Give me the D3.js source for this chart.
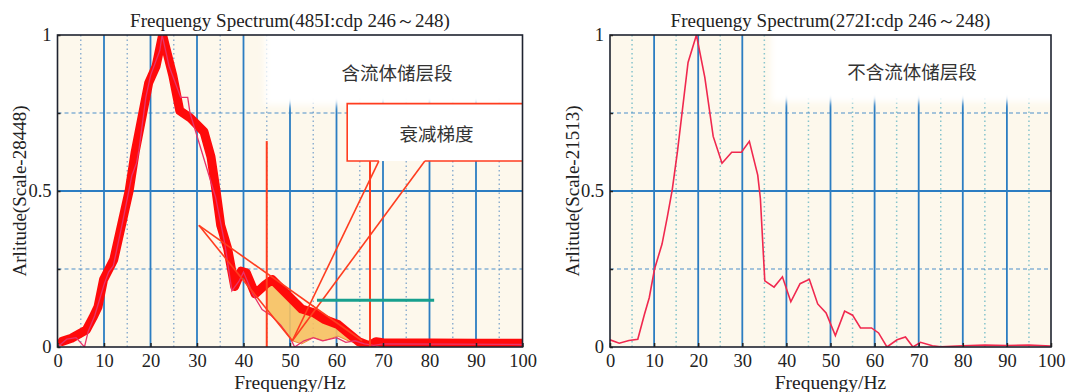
<!DOCTYPE html>
<html>
<head>
<meta charset="utf-8">
<script src="https://cdn.jsdelivr.net/npm/d3@7"></script>
<style>
  body { margin: 0; background: #fff; }
  svg { display: block; }
  text { font-family: "Liberation Serif", "Times New Roman", serif; fill: #222; }
  .cjk { font-family: "Noto Sans CJK SC", sans-serif; fill: #333; }
</style>
</head>
<body>
<script>
// 坐标刻度
const freqTicks = [0, 10, 20, 30, 40, 50, 60, 70, 80, 90, 100];
const minorFreq = [5, 15, 25, 35, 45, 55, 65, 75, 85, 95];
const ampTicks = [0, 0.5, 1];
const ampDashed = [0.25, 0.75];

// 左图：含流体储层段（粗线）
const leftThickFreq = [1, 3, 6.2, 7.6, 8.7, 9.9, 12.1, 15.4, 16.7, 19.6, 21.2, 22.6, 24.8, 26.3, 28.5, 31.5, 33, 34.1, 35.1, 36.6, 38.1, 39.5, 40.6, 42.5, 44.7, 46.2, 48.4, 50.6, 52.5, 55.1, 57.3, 60.3, 62.5, 64.8, 67, 68.5, 70, 80, 90, 100];
const leftThickAmp = [0.018, 0.028, 0.055, 0.094, 0.128, 0.216, 0.28, 0.5, 0.625, 0.846, 0.9, 1.0, 0.87, 0.757, 0.735, 0.69, 0.61, 0.5, 0.39, 0.315, 0.194, 0.243, 0.238, 0.17, 0.2, 0.216, 0.183, 0.15, 0.122, 0.11, 0.089, 0.072, 0.045, 0.017, 0.004, 0.017, 0.014, 0.013, 0.012, 0.012];

// 左图细线
const leftThinFreq = [0, 2, 4, 5.8, 6.6, 8, 9, 10, 11, 12, 14, 16, 17, 17.5, 19, 20, 22, 22.5, 24, 26.5, 28, 28.5, 34, 36, 37.5, 39, 40, 42, 44, 46, 48, 50, 51, 53, 55, 57, 60, 62, 64, 66, 68, 70, 100];
const leftThinAmp = [0.0, 0.025, 0.03, 0.0, 0.05, 0.1, 0.15, 0.2, 0.24, 0.26, 0.4, 0.55, 0.59, 0.63, 0.8, 0.87, 0.95, 1.0, 0.9, 0.8, 0.8, 0.75, 0.48, 0.33, 0.18, 0.21, 0.24, 0.17, 0.12, 0.1, 0.07, 0.03, 0.0, 0.02, 0.03, 0.02, 0.03, 0.015, 0.02, 0.01, 0.005, 0.01, 0.008];

// 衰减区域（橙色填充）
const fillFreq = [45, 46.2, 48.4, 50.5, 52.5, 55.1, 57.3, 60.3, 62.5, 64.8, 66];
const fillUpper = [0.2, 0.216, 0.183, 0.15, 0.122, 0.11, 0.089, 0.072, 0.045, 0.017, 0.01];
const fillLower = [0.121, 0.099, 0.059, 0.02, 0.01, 0.03, 0.02, 0.035, 0.02, 0.01, 0.01];

// 右图：不含流体储层段
const rightFreq = [0, 2.1, 4.3, 6.3, 7.8, 8.9, 10.1, 11.8, 13, 14.1, 15.3, 17.7, 19.6, 21.5, 23.4, 25.4, 27.6, 29.8, 31.6, 33.5, 34.1, 35.1, 37.2, 39.1, 41, 43.1, 45.2, 47.1, 49, 51.1, 53.2, 55, 56.8, 59.3, 60.9, 62.8, 65.1, 67, 68.7, 70.4, 73.1, 75, 80, 85, 90, 95, 100];
const rightAmp = [0.023, 0.012, 0.021, 0.025, 0.104, 0.158, 0.25, 0.33, 0.417, 0.503, 0.627, 0.912, 1.0, 0.864, 0.675, 0.589, 0.624, 0.624, 0.659, 0.551, 0.476, 0.212, 0.192, 0.225, 0.145, 0.203, 0.217, 0.138, 0.109, 0.037, 0.115, 0.102, 0.061, 0.061, 0.045, 0.0, 0.023, 0.032, 0.0, 0.015, 0.004, 0.001, 0.004, 0.006, 0.005, 0.006, 0.003];

const width = 1068, height = 392;
const plotTop = 35, plotBottom = 347;

const svg = d3.select('body').append('svg')
  .attr('width', width)
  .attr('height', height);

const drawPanel = (opt) => {
  const x = d3.scaleLinear().domain([0, 100]).range([opt.left, opt.right]);
  const y = d3.scaleLinear().domain([0, 1]).range([plotBottom, plotTop]);
  const g = svg.append('g');
  const clipId = 'clip' + opt.id;

  g.append('clipPath').attr('id', clipId)
    .append('rect')
    .attr('x', opt.left).attr('y', plotTop)
    .attr('width', opt.right - opt.left).attr('height', plotBottom - plotTop);

  // 背景
  g.append('rect')
    .attr('x', opt.left).attr('y', plotTop)
    .attr('width', opt.right - opt.left).attr('height', plotBottom - plotTop)
    .attr('fill', '#fdf8ec');

  // 网格
  const grid = g.append('g');
  grid.selectAll('.minor').data(minorFreq).enter().append('line')
    .attr('x1', d => x(d)).attr('x2', d => x(d))
    .attr('y1', plotTop).attr('y2', plotBottom)
    .attr('stroke', opt.dotColor).attr('stroke-width', 1.5)
    .attr('stroke-dasharray', '1.5,3');
  grid.selectAll('.hdash').data(ampDashed).enter().append('line')
    .attr('x1', opt.left).attr('x2', opt.right)
    .attr('y1', d => y(d)).attr('y2', d => y(d))
    .attr('stroke', '#4d8fc9').attr('stroke-width', 1)
    .attr('stroke-dasharray', '4,3');
  grid.selectAll('.major').data(freqTicks.slice(1, -1)).enter().append('line')
    .attr('x1', d => x(d)).attr('x2', d => x(d))
    .attr('y1', plotTop).attr('y2', plotBottom)
    .attr('stroke', '#2c7dc2').attr('stroke-width', 1.8);
  grid.append('line')
    .attr('x1', opt.left).attr('x2', opt.right)
    .attr('y1', y(0.5)).attr('y2', y(0.5))
    .attr('stroke', '#2c7dc2').attr('stroke-width', 1.8);

  // 白色标注框
  const defs = g.append('defs');
  defs.append('filter').attr('id', 'soft' + opt.id)
    .attr('x', '-10%').attr('y', '-10%').attr('width', '120%').attr('height', '120%')
    .append('feGaussianBlur').attr('stdDeviation', 3);
  g.append('g').attr('clip-path', `url(#${clipId})`)
    .append('rect')
    .attr('x', x(opt.boxFrom)).attr('y', plotTop - 10)
    .attr('width', opt.right - x(opt.boxFrom) + 10)
    .attr('height', y(opt.boxTo) - plotTop + 10)
    .attr('fill', '#fff')
    .attr('filter', `url(#soft${opt.id})`);

  g.append('text').attr('class', 'cjk')
    .attr('x', x(opt.labelAt[0])).attr('y', y(opt.labelAt[1]))
    .attr('text-anchor', 'middle').attr('dominant-baseline', 'central')
    .attr('font-size', 18.5)
    .text(opt.label);

  const plot = g.append('g').attr('clip-path', `url(#${clipId})`);
  opt.extra && opt.extra(plot, x, y);

  const line = d3.line().x(d => x(d[0])).y(d => y(d[1]));

  if (opt.thick) {
    plot.append('path')
      .datum(d3.zip(opt.thick[0], opt.thick[1]))
      .attr('d', line)
      .attr('fill', 'none')
      .attr('stroke', '#ff0a0a')
      .attr('stroke-width', 9)
      .attr('stroke-linejoin', 'round')
      .attr('stroke-linecap', 'round');
  }
  plot.append('path')
    .datum(d3.zip(opt.thin[0], opt.thin[1]))
    .attr('d', line)
    .attr('fill', 'none')
    .attr('stroke', opt.thinColor)
    .attr('stroke-width', opt.thinWidth);

  opt.after && opt.after(g, x, y);

  // 边框
  g.append('rect')
    .attr('x', opt.left).attr('y', plotTop)
    .attr('width', opt.right - opt.left).attr('height', plotBottom - plotTop)
    .attr('fill', 'none').attr('stroke', '#1e2330').attr('stroke-width', 1.6);

  // 坐标轴
  const xAxis = g.append('g')
    .attr('transform', `translate(0, ${plotBottom})`)
    .call(d3.axisBottom(x).tickValues(freqTicks).tickSizeInner(-4).tickSizeOuter(0).tickPadding(7));
  xAxis.select('.domain').remove();
  xAxis.selectAll('.tick line').attr('stroke', '#222').attr('stroke-width', 1.5);
  xAxis.selectAll('.tick text').attr('font-size', 18.5).attr('fill', '#222')
    .attr('font-family', '"Liberation Serif", serif');

  const yAxis = g.append('g')
    .attr('transform', `translate(${opt.left}, 0)`)
    .call(d3.axisLeft(y).tickValues([0, 0.25, 0.5, 0.75, 1]).tickSizeInner(-3).tickSizeOuter(0).tickPadding(6)
      .tickFormat(d => ampTicks.includes(d) ? d3.format('~g')(d) : ''));
  yAxis.select('.domain').remove();
  yAxis.selectAll('.tick line').attr('stroke', '#222').attr('stroke-width', 1.5);
  yAxis.selectAll('.tick text').attr('font-size', 18.5).attr('fill', '#222')
    .attr('font-family', '"Liberation Serif", serif');

  // 标题与轴标签
  g.append('text')
    .attr('x', (opt.left + opt.right) / 2).attr('y', 20)
    .attr('text-anchor', 'middle').attr('dominant-baseline', 'central')
    .attr('font-size', 19)
    .text(opt.title);
  g.append('text')
    .attr('x', (opt.left + opt.right) / 2).attr('y', 382)
    .attr('text-anchor', 'middle').attr('dominant-baseline', 'central')
    .attr('font-size', 19.5)
    .text('Frequengy/Hz');
  g.append('text')
    .attr('transform', `translate(${opt.left - 38}, ${(plotTop + plotBottom) / 2}) rotate(-90)`)
    .attr('text-anchor', 'middle').attr('dominant-baseline', 'central')
    .attr('font-size', 19)
    .text(opt.yLabel);
};

// 左图
drawPanel({
  id: 'L', left: 57.5, right: 522.5,
  title: 'Frequengy Spectrum(485I:cdp 246～248)',
  yLabel: 'Arlitude(Scale-28448)',
  dotColor: '#8fb0d0',
  boxFrom: 44.5, boxTo: 0.775,
  label: '含流体储层段', labelAt: [73, 0.88],
  thick: [leftThickFreq, leftThickAmp],
  thin: [leftThinFreq, leftThinAmp],
  thinColor: '#e8336a', thinWidth: 1.3,
  extra: (p, x, y) => {
    // 橙色衰减区域
    const area = d3.area()
      .x(d => x(d[0])).y0(d => y(d[2])).y1(d => y(d[1]));
    p.append('path')
      .datum(d3.zip(fillFreq, fillUpper, fillLower))
      .attr('d', area)
      .attr('fill', '#f6c060').attr('opacity', 0.9);
    p.append('path')
      .datum(d3.zip(fillFreq, fillLower))
      .attr('d', d3.line().x(d => x(d[0])).y(d => y(d[1])))
      .attr('fill', 'none').attr('stroke', '#f08a40').attr('stroke-width', 1);
  },
  after: (g, x, y) => {
    const red = '#ff3d1f';
    // 竖线
    g.append('line')
      .attr('x1', x(45)).attr('x2', x(45)).attr('y1', y(0.66)).attr('y2', y(0))
      .attr('stroke', red).attr('stroke-width', 2);
    g.append('line')
      .attr('x1', x(67.2)).attr('x2', x(67.2)).attr('y1', y(0.596)).attr('y2', y(0))
      .attr('stroke', red).attr('stroke-width', 2);
    // 梯度斜线
    const seg = (a, b, w) => g.append('line')
      .attr('x1', x(a[0])).attr('y1', y(a[1]))
      .attr('x2', x(b[0])).attr('y2', y(b[1]))
      .attr('stroke', red).attr('stroke-width', w);
    seg([30.4, 0.39], [50.5, 0.02], 1.6);
    seg([30.4, 0.39], [65.5, 0.02], 1.6);
    // 标注框
    const box = g.append('g');
    box.append('rect')
      .attr('x', x(62.3)).attr('y', y(0.78))
      .attr('width', x(100) - x(62.3)).attr('height', y(0.596) - y(0.78))
      .attr('fill', '#fff');
    box.append('path')
      .attr('d', d3.line()([
        [x(69.1), y(0.596)], [x(62.3), y(0.596)], [x(62.3), y(0.78)], [x(100), y(0.78)]
      ]))
      .attr('fill', 'none').attr('stroke', red).attr('stroke-width', 1.6);
    box.append('line')
      .attr('x1', x(79)).attr('x2', x(100)).attr('y1', y(0.596)).attr('y2', y(0.596))
      .attr('stroke', red).attr('stroke-width', 1.6);
    seg([69.1, 0.596], [50.5, 0.02], 1.6);
    seg([79, 0.596], [50.5, 0.02], 1.6);
    box.append('text').attr('class', 'cjk')
      .attr('x', x(81.5)).attr('y', y(0.686))
      .attr('text-anchor', 'middle').attr('dominant-baseline', 'central')
      .attr('font-size', 18.5)
      .text('衰减梯度');
    // 青色横线
    g.append('line')
      .attr('x1', x(55.8)).attr('x2', x(81)).attr('y1', y(0.15)).attr('y2', y(0.15))
      .attr('stroke', '#17a08e').attr('stroke-width', 3);
  }
});

// 右图
drawPanel({
  id: 'R', left: 610, right: 1051,
  title: 'Frequengy Spectrum(272I:cdp 246～248)',
  yLabel: 'Arlitude(Scale-21513)',
  dotColor: '#86c4cc',
  boxFrom: 36.5, boxTo: 0.785,
  label: '不含流体储层段', labelAt: [68.5, 0.885],
  thin: [rightFreq, rightAmp],
  thinColor: '#f0284e', thinWidth: 1.6
});
</script>
</body>
</html>
